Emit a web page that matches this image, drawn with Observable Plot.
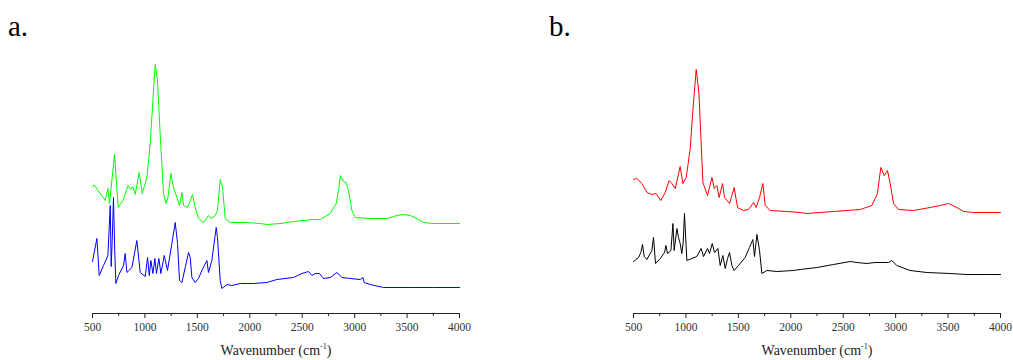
<!DOCTYPE html>
<html>
<head>
<meta charset="utf-8">
<script src="https://cdn.jsdelivr.net/npm/d3@7"></script>
<script src="https://cdn.jsdelivr.net/npm/@observablehq/plot@0.6"></script>
<style>
  html, body { margin: 0; padding: 0; background: #fff; }
  #wrap { position: relative; width: 1013px; height: 360px; overflow: hidden; font-family: "Liberation Serif", "Times New Roman", serif; background: #fff; }
  .panel { position: absolute; top: 0; z-index: 1; }
  .panel svg { max-width: none !important; background: transparent !important; }
  .panel svg text { font-family: "Liberation Serif", "Times New Roman", serif !important; }
  .tag { position: absolute; font-size: 29px; line-height: 1; color: #000; z-index: 2; }
  .xtitle { position: absolute; font-size: 14px; line-height: 1; color: #222; white-space: nowrap; transform: translateX(-50%); z-index: 2; }
  .xtitle sup { font-size: 8px; vertical-align: 6px; }
</style>
</head>
<body>
<div id="wrap">
  <div class="panel" id="pa" style="left:0px; width:506px;"></div>
  <div class="panel" id="pb" style="left:541px; width:472px;"></div>
  <div class="tag" style="left:8px; top:12px;">a.</div>
  <div class="tag" style="left:549px; top:12px;">b.</div>
  <div class="xtitle" style="left:276px; top:343px;">Wavenumber (cm<sup>-1</sup>)</div>
  <div class="xtitle" style="left:817px; top:343px;">Wavenumber (cm<sup>-1</sup>)</div>
</div>
<script>
// Panel a, upper spectrum (green): wavenumber (cm-1), intensity (a.u.)
const greenWn = [500,516,621,647,662,710,745,790,840,866,885,907,945,974,1019,1050,1098,1120,1145,1177,1203,1219,1248,1272,1305,1330,1353,1368,1406,1454,1479,1511,1559,1606,1632,1670,1692,1718,1740,1766,1813,1973,2099,2163,2290,2417,2608,2672,2767,2824,2846,2865,2894,2919,2941,2974,3005,3148,3308,3371,3451,3530,3594,3657,3752,4000];
const greenI  = [1.27,1.285,1.13,1.25,1.10,1.59,1.06,1.13,1.28,1.24,1.27,1.19,1.41,1.20,1.36,1.70,2.49,2.33,1.80,1.20,1.10,1.16,1.40,1.26,1.16,1.08,1.21,1.08,1.06,1.19,1.06,0.95,0.91,0.98,0.95,0.98,1.03,1.34,1.26,0.95,0.91,0.91,0.90,0.89,0.90,0.92,0.94,0.94,1.00,1.10,1.23,1.38,1.32,1.31,1.23,1.03,0.96,0.95,0.95,0.97,0.99,0.98,0.95,0.91,0.90,0.90];

// Panel a, lower spectrum (blue)
const blueWn = [500,542,564,605,647,669,678,688,700,712,723,748,796,812,828,876,923,955,1003,1025,1041,1057,1076,1095,1110,1133,1152,1184,1215,1257,1289,1311,1330,1353,1384,1416,1432,1448,1479,1511,1543,1591,1606,1638,1680,1692,1718,1734,1782,1829,1909,2035,2163,2258,2417,2497,2560,2592,2624,2665,2703,2767,2831,2879,2958,3053,3079,3091,3148,3275,3530,3752,4000];
const blueI  = [0.52,0.75,0.38,0.48,0.58,1.08,0.47,0.73,1.16,0.63,0.30,0.38,0.48,0.60,0.41,0.46,0.73,0.41,0.37,0.56,0.38,0.53,0.40,0.55,0.40,0.55,0.40,0.58,0.43,0.70,0.91,0.70,0.33,0.31,0.46,0.61,0.56,0.36,0.31,0.35,0.43,0.53,0.41,0.53,0.86,0.76,0.33,0.25,0.29,0.28,0.30,0.30,0.31,0.34,0.36,0.40,0.42,0.38,0.40,0.40,0.35,0.36,0.41,0.36,0.35,0.34,0.36,0.31,0.29,0.26,0.26,0.26,0.26];

// Panel b, upper spectrum (red)
const redWn = [500,532,580,628,675,716,761,802,840,866,898,945,971,1003,1041,1066,1098,1124,1162,1206,1248,1270,1295,1317,1349,1368,1416,1460,1492,1549,1597,1645,1670,1702,1734,1756,1804,1963,2090,2153,2280,2407,2662,2773,2827,2846,2859,2891,2922,2948,2980,3027,3170,3329,3425,3504,3584,3647,3743,4000];
const redI  = [1.34,1.35,1.30,1.21,1.19,1.20,1.13,1.21,1.33,1.30,1.25,1.47,1.30,1.36,1.65,2.03,2.44,2.20,1.31,1.18,1.36,1.25,1.28,1.16,1.30,1.16,1.10,1.26,1.06,1.03,1.04,1.11,1.06,1.16,1.30,1.08,1.03,1.02,1.01,1.00,1.01,1.02,1.04,1.08,1.20,1.36,1.46,1.38,1.43,1.30,1.10,1.04,1.03,1.06,1.08,1.10,1.06,1.02,1.01,1.01];

// Panel b, lower spectrum (black)
const blackWn = [500,548,570,586,602,628,675,691,710,755,796,809,824,857,876,888,914,929,945,961,974,986,1009,1057,1104,1145,1168,1206,1225,1251,1273,1305,1327,1352,1375,1397,1416,1438,1460,1501,1565,1606,1638,1654,1677,1702,1724,1772,1867,2026,2090,2249,2407,2566,2630,2725,2804,2868,2910,2932,2964,3011,3138,3297,3520,3679,3870,4000];
const blackI  = [0.52,0.56,0.61,0.69,0.57,0.54,0.63,0.76,0.50,0.55,0.61,0.68,0.60,0.63,0.90,0.63,0.85,0.76,0.70,0.60,0.71,1.00,0.53,0.55,0.57,0.65,0.57,0.65,0.60,0.70,0.61,0.65,0.48,0.58,0.45,0.55,0.61,0.48,0.43,0.48,0.56,0.66,0.74,0.57,0.79,0.63,0.40,0.43,0.42,0.43,0.44,0.46,0.49,0.52,0.51,0.50,0.51,0.51,0.51,0.51,0.53,0.48,0.43,0.41,0.40,0.39,0.39,0.39];

const majorTicks = [500,1000,1500,2000,2500,3000,3500,4000];
const minorTicks = [750,1250,1750,2250,2750,3250,3750];

function toRows(wn, vals) { return wn.map((w, i) => ({wn: w, v: vals[i]})); }

function panel(upper, upperColor, lower, lowerColor, width, marginRight) {
  return Plot.plot({
    width: width,
    height: 345,
    marginLeft: 92,
    marginRight: marginRight,
    marginTop: 10,
    marginBottom: 32,
    style: {fontFamily: "Liberation Serif, Times New Roman, serif", background: "transparent", overflow: "visible"},
    x: {domain: [500, 4000], label: null},
    y: {domain: [0, 2.5], range: [313, 63], axis: null},
    marks: [
      Plot.line(upper, {x: "wn", y: "v", stroke: upperColor, strokeWidth: 1}),
      Plot.line(lower, {x: "wn", y: "v", stroke: lowerColor, strokeWidth: 1}),
      Plot.ruleY([0], {stroke: "#222", strokeWidth: 1}),
      Plot.axisX({ticks: majorTicks, tickSize: 5, tickPadding: 4, tickFormat: d => String(d), fontSize: 11.5, fontFamily: "Liberation Serif", color: "#333", stroke: "#222", strokeOpacity: 1, label: null}),
      Plot.axisX({ticks: minorTicks, tickSize: 3, tickFormat: () => "", stroke: "#222", strokeOpacity: 1, label: null})
    ]
  });
}

document.getElementById("pa").appendChild(panel(toRows(greenWn, greenI), "#00ff00", toRows(blueWn, blueI), "#0000ff", 506, 47));
document.getElementById("pb").appendChild(panel(toRows(redWn, redI), "#ff0000", toRows(blackWn, blackI), "#000000", 472, 13));
</script>
</body>
</html>
